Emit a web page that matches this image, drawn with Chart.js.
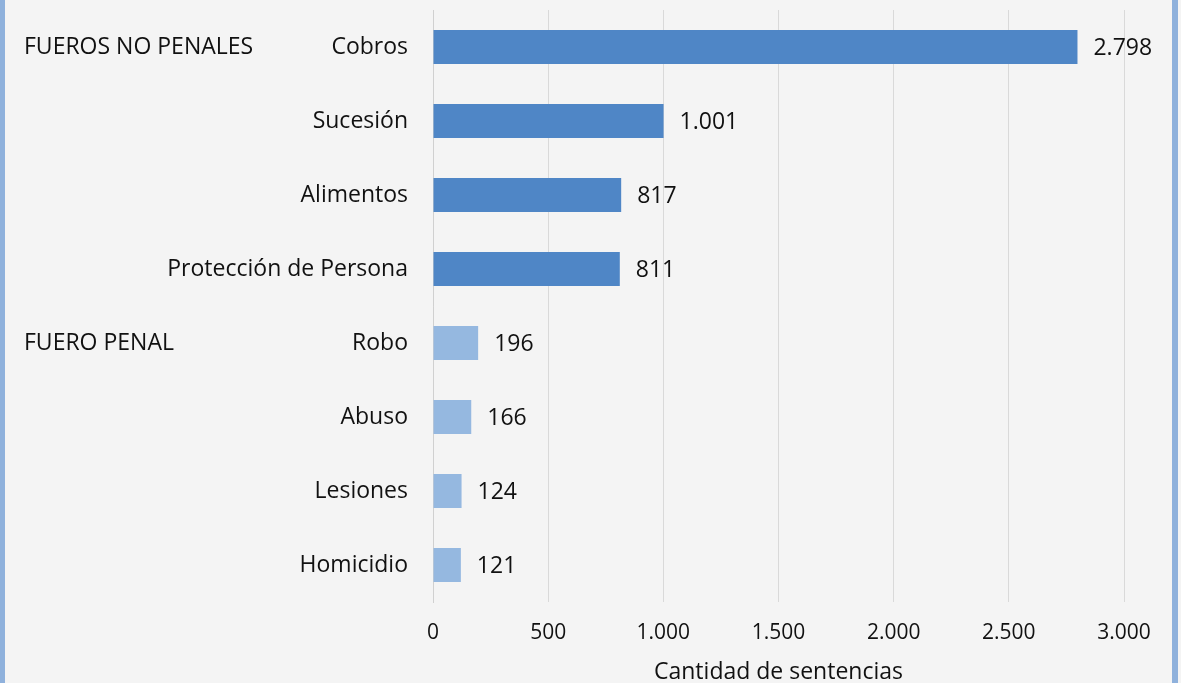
<!DOCTYPE html>
<html lang="es">
<head>
    <meta charset="UTF-8">
    <title>Sentencias por fuero</title>
    <script src="https://cdn.jsdelivr.net/npm/chart.js"></script>
    <style>
        html, body {
            margin: 0;
            padding: 0;
            width: 1181px;
            height: 683px;
            overflow: hidden;
            background: #f4f4f4;
        }
        .frame {
            position: absolute;
            left: 0; top: 0;
            width: 1181px;
            height: 683px;
        }
        .edge-left, .edge-right {
            position: absolute;
            top: 0;
            height: 683px;
            background: #8fb1dc;
        }
        .edge-left { left: 0; width: 5px; }
        .edge-right { left: 1172px; width: 6px; }
        canvas { position: absolute; left: 0; top: 0; }
    </style>
</head>
<body>
    <div class="frame">
        <canvas id="sentChart" width="1181" height="683"></canvas>
        <div class="edge-left"></div>
        <div class="edge-right"></div>
    </div>
    <script>
        const categorias = ['Cobros', 'Sucesión', 'Alimentos', 'Protección de Persona', 'Robo', 'Abuso', 'Lesiones', 'Homicidio'];
        const sentencias = [2798, 1001, 817, 811, 196, 166, 124, 121];
        const colores = ['#4f86c6', '#4f86c6', '#4f86c6', '#4f86c6', '#95b8e0', '#95b8e0', '#95b8e0', '#95b8e0'];
        const grupos = [
            { texto: 'FUEROS NO PENALES', categoria: 'Cobros' },
            { texto: 'FUERO PENAL', categoria: 'Robo' }
        ];
        const ejeTitulo = 'Cantidad de sentencias';

        const fuente = '"Open Sans", sans-serif';

        function miles(v) {
            return String(Math.round(v)).replace(/\B(?=(\d{3})+(?!\d))/g, '.');
        }

        // valores al final de cada barra + etiquetas de grupo a la izquierda
        const extras = {
            id: 'extras',
            afterDatasetsDraw(chart) {
                const ctx = chart.ctx;
                const meta = chart.getDatasetMeta(0);
                ctx.save();
                ctx.fillStyle = '#111';
                ctx.font = '23px ' + fuente;
                ctx.textBaseline = 'middle';
                ctx.textAlign = 'left';
                meta.data.forEach((bar, i) => {
                    ctx.fillText(miles(sentencias[i]), bar.x + 16, bar.y + 1);
                });
                const y = chart.scales.y;
                grupos.forEach(g => {
                    const idx = categorias.indexOf(g.categoria);
                    ctx.fillText(g.texto, 24, y.getPixelForValue(idx));
                });
                ctx.restore();
            }
        };

        const ctx = document.getElementById('sentChart').getContext('2d');
        new Chart(ctx, {
            type: 'bar',
            data: {
                labels: categorias,
                datasets: [{
                    data: sentencias,
                    backgroundColor: colores,
                    barPercentage: 0.92,
                    categoryPercentage: 0.5
                }]
            },
            options: {
                indexAxis: 'y',
                responsive: false,
                animation: false,
                layout: { padding: { top: 10, right: 57, bottom: 0, left: 0 } },
                plugins: {
                    legend: { display: false },
                    tooltip: { enabled: false }
                },
                scales: {
                    x: {
                        min: 0,
                        max: 3000,
                        ticks: {
                            stepSize: 500,
                            color: '#111',
                            padding: 18,
                            font: { family: fuente, size: 21 },
                            callback: v => miles(v)
                        },
                        grid: { color: '#d9d9d9', drawTicks: false },
                        border: { display: false },
                        title: {
                            display: true,
                            text: ejeTitulo,
                            color: '#111',
                            font: { family: fuente, size: 23 },
                            padding: { top: 0, bottom: -3 }
                        },
                        afterFit: s => { s.height = 81; }
                    },
                    y: {
                        ticks: {
                            color: '#111',
                            padding: 0,
                            font: { family: fuente, size: 23, lineHeight: 0.8 }
                        },
                        grid: {
                            display: true,
                            drawOnChartArea: false,
                            drawTicks: true,
                            tickLength: 25,
                            color: 'rgba(0,0,0,0)'
                        },
                        border: { display: true, color: '#d0d0d0' },
                        afterFit: s => { s.width = 433; }
                    }
                }
            },
            plugins: [extras]
        });
    </script>
</body>
</html>
